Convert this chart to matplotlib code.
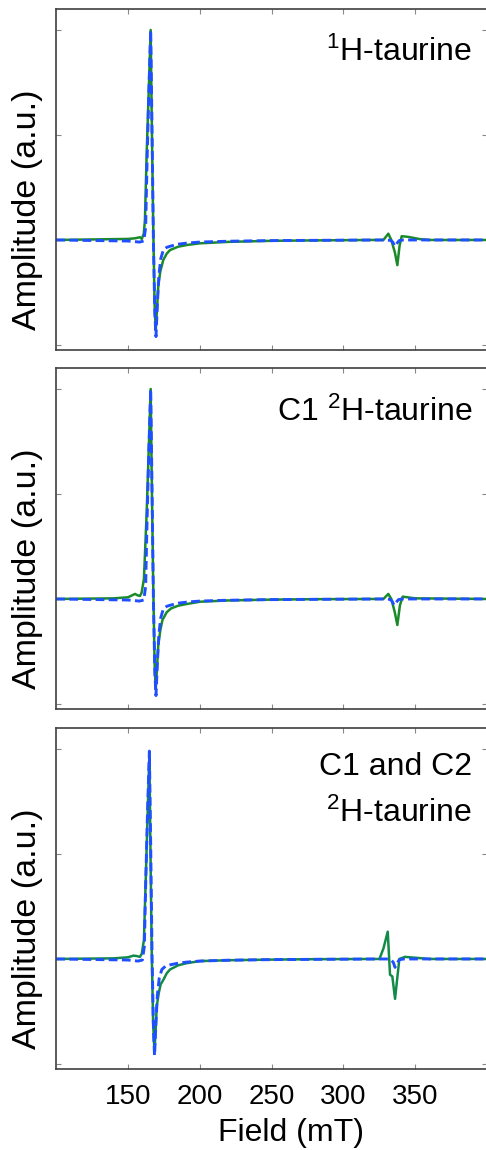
import matplotlib
matplotlib.use("Agg")
import matplotlib.pyplot as plt

plt.rcParams['font.family'] = ['Liberation Sans', 'DejaVu Sans']

# ---- data (field in mT, amplitude normalised) ----
# panel 1: 1H-taurine
p1_exp_field = [100, 130, 150, 155, 158.3, 159.6, 161, 161.8, 163, 164.5, 165.8,
                166.5, 167.5, 168.5, 169.3, 170.2, 171.1, 172.5, 174.6, 177, 179.3,
                185, 190.9, 200, 220, 250, 280, 320, 328, 331.4, 333.5, 336, 337.7,
                339.2, 340.7, 345, 353.5, 360, 400]
p1_exp_amp = [0, 0.003, 0.005, 0.008, 0.013, 0.005, 0.03, 0.095, 0.41, 0.72, 1.0,
              0.6, 0.1, -0.3, -0.43, -0.33, -0.22, -0.15, -0.095, -0.065, -0.048,
              -0.032, -0.024, -0.016, -0.009, -0.004, -0.002, 0, 0, 0.03, 0.0, -0.06, -0.12,
              -0.03, 0.018, 0.015, 0.004, 0, 0]
p1_fit_field = [100, 150, 158, 161, 162.3, 163.2, 164.5, 165.8, 166.7, 167.7, 168.7,
                169.5, 170.5, 171.5, 172.8, 174.6, 177, 179.3, 185, 190.9, 200, 220,
                250, 300, 330, 333, 334.5, 336, 337.5, 339, 342, 400]
p1_fit_amp = [0, -0.005, -0.01, -0.005, 0.06, 0.35, 0.7, 1.0, 0.55, 0.0, -0.35,
              -0.46, -0.3, -0.17, -0.09, -0.048, -0.035, -0.03, -0.02, -0.015, -0.01, -0.006,
              -0.003, -0.001, 0, -0.002, -0.01, -0.03, -0.015, -0.003, 0, 0]

# panel 2: C1 2H-taurine
p2_exp_field = [100, 140, 150, 154.9, 156.5, 158.3, 159.5, 161.1, 163, 164.5, 165.8,
                166.5, 167.5, 168.5, 169.3, 170.2, 171.1, 172.5, 174, 177, 180, 185,
                190.9, 200.2, 220, 250, 280, 320, 328, 331.4, 333.5, 335.8, 337.7,
                339.5, 341.4, 350, 400]
p2_exp_amp = [0, 0.003, 0.008, 0.024, 0.018, 0.014, 0.03, 0.095, 0.41, 0.72, 1.0,
              0.6, 0.1, -0.3, -0.43, -0.33, -0.22, -0.15, -0.1, -0.063, -0.045, -0.032,
              -0.024, -0.013, -0.007, -0.003, -0.001, 0, 0, 0.024, 0.0, -0.06, -0.124,
              -0.03, 0.011, 0.003, 0]
p2_fit_field = [100, 150, 158, 161, 162.3, 163.2, 164.5, 165.8, 166.7, 167.7, 168.7,
                169.5, 170.5, 171.5, 172.8, 174.6, 177, 179.3, 185, 190.9, 200, 220,
                250, 300, 330, 332.5, 334, 335.4, 337, 338.5, 341, 400]
p2_fit_amp = [0, -0.005, -0.01, -0.005, 0.06, 0.35, 0.7, 1.0, 0.55, 0.0, -0.35,
              -0.46, -0.3, -0.17, -0.09, -0.048, -0.035, -0.03, -0.02, -0.015, -0.01, -0.006,
              -0.003, -0.001, 0, -0.002, -0.01, -0.03, -0.015, -0.003, 0, 0]

# panel 3: C1 and C2 2H-taurine
p3_exp_field = [100, 140, 150, 153.8, 156, 158.3, 159.6, 161.1, 162.5, 163.8, 164.9,
                165.6, 166.5, 167.5, 168.4, 169.2, 170, 171.5, 172.8, 174.6, 177, 179.3,
                185, 190.9, 200.2, 220, 250, 280, 320, 325.2, 328, 331, 332.6, 334.2,
                336.1, 337.5, 339.1, 343, 353.5, 360, 400]
p3_exp_amp = [0, 0.003, 0.008, 0.016, 0.014, 0.01, 0.025, 0.09, 0.41, 0.72, 0.98,
              0.55, 0.05, -0.3, -0.44, -0.35, -0.226, -0.16, -0.12, -0.1, -0.068, -0.05,
              -0.03, -0.02, -0.01, -0.006, -0.003, -0.001, 0, 0, 0.05, 0.13, -0.075, -0.083,
              -0.19, -0.1, 0, 0.01, 0.004, 0, 0]
p3_fit_field = [100, 150, 157, 160, 161.4, 162.3, 163.6, 164.9, 165.8, 166.8, 167.8,
                168.5, 169.5, 170.5, 171.8, 173.6, 176, 179.3, 185, 190.9, 200, 220,
                250, 300, 330, 333, 334.8, 336.1, 337.6, 339, 342, 400]
p3_fit_amp = [0, -0.005, -0.01, -0.005, 0.06, 0.35, 0.7, 0.99, 0.55, 0.0, -0.35,
              -0.46, -0.3, -0.17, -0.09, -0.05, -0.035, -0.028, -0.02, -0.015, -0.01, -0.006,
              -0.003, -0.001, 0, -0.003, -0.015, -0.04, -0.02, -0.004, 0, 0]

panel_titles = [[r'$\mathregular{^1}$H-taurine'],
                [r'C1 $\mathregular{^2}$H-taurine'],
                ['C1 and C2', r'$\mathregular{^2}$H-taurine']]
x_ticks = [150, 200, 250, 300, 350]
y_ticks = [-0.5, 0, 0.5, 1.0]

panels = [
    (p1_exp_field, p1_exp_amp, p1_fit_field, p1_fit_amp, '#1a8a2a'),
    (p2_exp_field, p2_exp_amp, p2_fit_field, p2_fit_amp, '#1a8a2a'),
    (p3_exp_field, p3_exp_amp, p3_fit_field, p3_fit_amp, '#138a48'),
]

fig = plt.figure(figsize=(4.86, 11.5), dpi=100)

ax_left = 56.25 / 486
ax_width = 430.5 / 486
ax_height = 341 / 1150
bottoms = [(1150 - 350) / 1150, (1150 - 709) / 1150, (1150 - 1069) / 1150]
title_y = [[0.8475], [0.8446], [0.862, 0.724]]

for i, (ef, ea, ff, fa, green) in enumerate(panels):
    ax = fig.add_axes([ax_left, bottoms[i], ax_width, ax_height])
    ax.plot(ef, ea, color=green, linewidth=1.8)
    ax.plot(ff, fa, color='#1f4fff', linewidth=2.1, linestyle=(0, (3, 1.5)))
    ax.set_xlim(100, 400)
    ax.set_ylim(-0.524, 1.1)
    ax.set_xticks(x_ticks)
    ax.set_yticks(y_ticks)
    ax.set_yticklabels([])
    ax.tick_params(direction='in', length=3.5, width=0.8, color='#888888',
                   top=True, right=True, labelsize=20, pad=11)
    if i < 2:
        ax.set_xticklabels([])
    else:
        ax.set_xlabel('Field (mT)', fontsize=23)
        ax.xaxis.set_label_coords(0.546, -0.144)
    for sp in ax.spines.values():
        sp.set_color('#404040')
        sp.set_linewidth(1.2)
    ax.set_ylabel('Amplitude (a.u.)', fontsize=24.5)
    ax.yaxis.set_label_coords(-0.03, 0.41)
    for line, yy in zip(panel_titles[i], title_y[i]):
        ax.text(0.966, yy, line, transform=ax.transAxes, ha='right',
                va='baseline', fontsize=23)

fig.savefig('out.png', dpi=100)
